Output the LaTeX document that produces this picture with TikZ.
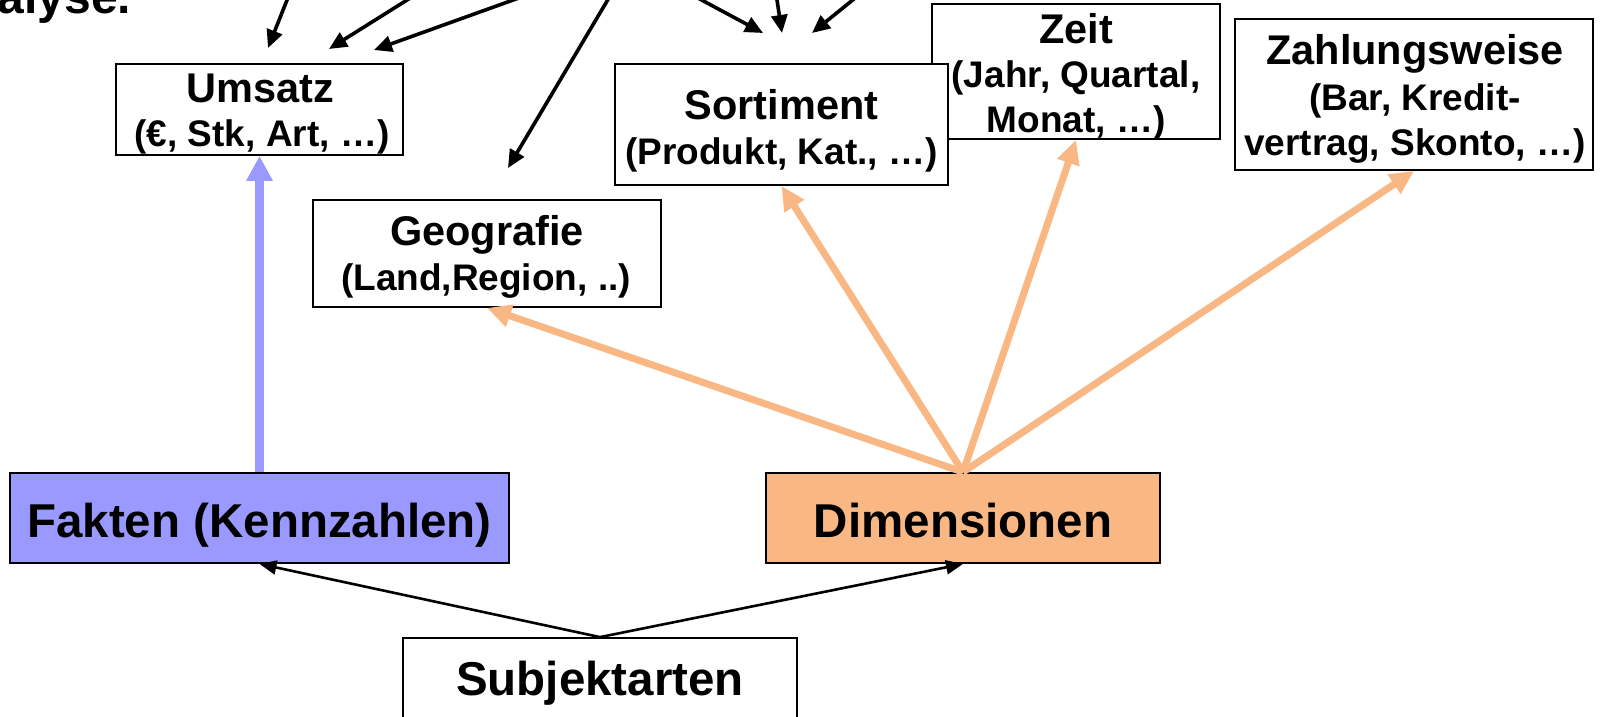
\documentclass[tikz,border=0pt]{standalone}
\usepackage{fontspec}
\setmainfont{Liberation Sans}
\usetikzlibrary{arrows.meta}

\definecolor{factblue}{HTML}{9999FF}
\definecolor{dimorange}{HTML}{F9B784}

\begin{document}
\begin{tikzpicture}[x=1pt,y=-1pt,
  box/.style={draw=black, line width=1.8pt, fill=white, inner sep=0pt},
  ttl/.style={inner sep=0pt, anchor=base, font=\bfseries\fontsize{41.5}{44}\selectfont},
  sub/.style={inner sep=0pt, anchor=base, font=\bfseries\fontsize{37}{44}\selectfont},
  big/.style={inner sep=0pt, anchor=base, font=\bfseries\fontsize{47.5}{52}\selectfont},
  toparrow/.style={draw=black, line width=3.6pt, -{Triangle[width=16pt,length=18pt]}},
  subarrow/.style={draw=black, line width=2.6pt, -{Triangle[width=14pt,length=17pt]}},
  dimarrow/.style={draw=dimorange, line width=7pt, -{Triangle[width=22pt,length=24pt]}},
  factarrow/.style={draw=factblue, line width=8.5pt, -{Triangle[width=25pt,length=25pt]}}
]
\useasboundingbox (0,0) rectangle (1603,716);
\clip (0,0) rectangle (1603,716);

% heading, cut by the frame
\node[inner sep=0pt, anchor=base east, font=\bfseries\fontsize{48}{52}\selectfont] (heading) at (131.5,13) {alyse.};

% boxes (Zeit lies behind Sortiment)
\node[box, minimum width=287pt, minimum height=91pt]  (umsatz) at (259.5,109.5) {};
\node[box, minimum width=288pt, minimum height=135pt] (zeit)   at (1076,71.5) {};
\node[box, minimum width=333pt, minimum height=121pt] (sortiment) at (781.5,124.5) {};
\node[box, minimum width=358pt, minimum height=151pt] (zahlung) at (1414,94.5) {};
\node[box, minimum width=348pt, minimum height=107pt] (geo) at (487,253.5) {};
\node[box, fill=factblue, minimum width=499pt, minimum height=90pt] (fakten) at (259.5,518) {};
\node[box, fill=dimorange, minimum width=394pt, minimum height=90pt] (dim) at (963,518) {};
\node[box, minimum width=394pt, minimum height=90pt] (subj) at (600,683) {};

% box texts
\node[ttl] (umsatz-t) at (260,102) {Umsatz};
\node[sub] (umsatz-s) at (262,146) {(€, Stk, Art, …)};

\node[ttl] (zeit-t)  at (1076,43) {Zeit};
\node[sub] (zeit-s1) at (1076,87.5) {(Jahr, Quartal,};
\node[sub] (zeit-s2) at (1076,132) {Monat, …)};

\node[ttl] (sortiment-t) at (781.5,119) {Sortiment};
\node[sub] (sortiment-s) at (781.5,164) {(Produkt, Kat., …)};

\node[ttl] (zahlung-t)  at (1415,64.5) {Zahlungsweise};
\node[sub] (zahlung-s1) at (1415,110) {(Bar, Kredit-};
\node[sub] (zahlung-s2) at (1415,155.5) {vertrag, Skonto, …)};

\node[ttl] (geo-t) at (487,245) {Geografie};
\node[sub] (geo-s) at (486,290) {(Land,Region, ..)};

\node[big] (fakten-t) at (259.5,537) {Fakten (Kennzahlen)};
\node[big] (dim-t)    at (963,537) {Dimensionen};
\node[big] (subj-t)   at (600,695) {Subjektarten};

% arrows entering from above
\coordinate (a1s) at (291,-10);   \coordinate (a1e) at (268,48);
\coordinate (a2s) at (423,-10);   \coordinate (a2e) at (329,49);
\coordinate (a3s) at (541,-10);   \coordinate (a3e) at (374,50);
\coordinate (a4s) at (613.6,-10); \coordinate (a4e) at (508,168);
\coordinate (a5s) at (683,-10);   \coordinate (a5e) at (763,33);
\coordinate (a6s) at (775.5,-10); \coordinate (a6e) at (782,33);
\coordinate (a7s) at (865,-10);   \coordinate (a7e) at (812,33);
\foreach \i in {1,...,7} { \draw[toparrow] (a\i s) -- (a\i e); }

% facts -> Umsatz
\draw[factarrow] (fakten.north) -- (umsatz.south);

% dimensions -> dimension boxes
\draw[dimarrow] (dim.north) -- (geo.south);
\draw[dimarrow] (dim.north) -- (sortiment.south);
\draw[dimarrow] (dim.north) -- (zeit.south);
\draw[dimarrow] (dim.north) -- (zahlung.south);

% Subjektarten -> both kinds
\draw[subarrow] (subj.north) -- (fakten.south);
\draw[subarrow] (subj.north) -- (dim.south);
\end{tikzpicture}
\end{document}
